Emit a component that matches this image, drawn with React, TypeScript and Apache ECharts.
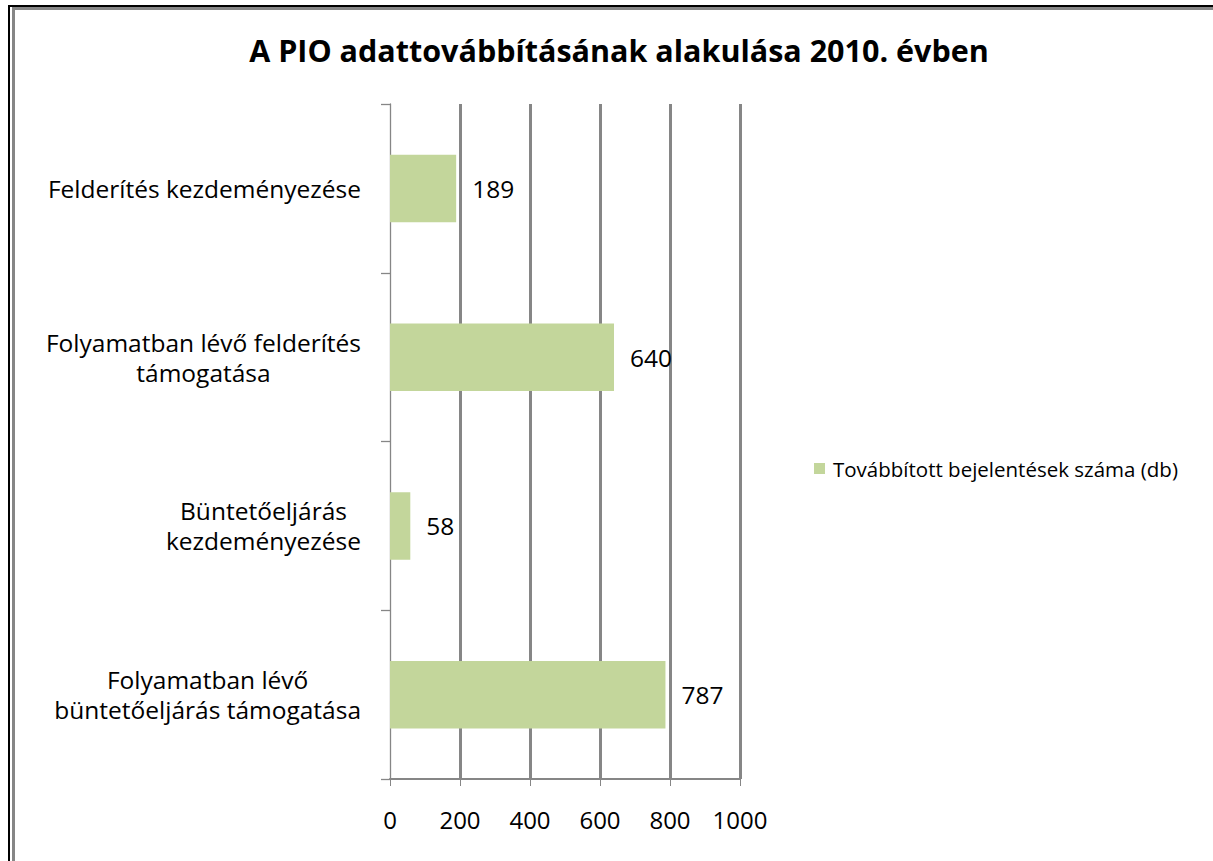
import React, { useEffect, useRef } from "react";
import * as echarts from "echarts";

const chartTitle = "A PIO adattovábbításának alakulása 2010. évben";
const seriesName = "Továbbított bejelentések száma (db)";
const categories = [
  "Felderítés kezdeményezése",
  "Folyamatban lévő felderítés\ntámogatása",
  "Büntetőeljárás\nkezdeményezése",
  "Folyamatban lévő\nbüntetőeljárás támogatása",
];
const values = [189, 640, 58, 787];
const xTicks = [0, 200, 400, 600, 800, 1000];

const FONT = "'Open Sans', 'Noto Sans', sans-serif";
const GRID_GRAY = "#868686";

export default function App() {
  const ref = useRef<HTMLDivElement>(null);

  useEffect(() => {
    if (!ref.current) return;
    const chart = echarts.init(ref.current, undefined, { renderer: "svg" });
    chart.setOption({
      animation: false,
      backgroundColor: "#ffffff",
      textStyle: { fontFamily: FONT },
      title: {
        text: chartTitle,
        left: 614,
        top: 29,
        textAlign: "center",
        textStyle: { fontFamily: FONT, fontSize: 30.5, fontWeight: "bold", color: "#000" },
      },
      legend: {
        left: 814,
        top: 458,
        padding: 0,
        icon: "rect",
        itemWidth: 11,
        itemHeight: 11,
        data: [seriesName],
        textStyle: { fontFamily: FONT, fontSize: 20.5, color: "#000", padding: [0, 0, 0, 3] },
      },
      grid: { left: 390, right: 473, top: 104, bottom: 82, containLabel: false },
      xAxis: {
        type: "value",
        min: xTicks[0],
        max: xTicks[xTicks.length - 1],
        interval: xTicks[1] - xTicks[0],
        axisLine: { show: true, lineStyle: { color: GRID_GRAY, width: 2 } },
        axisTick: { show: true, length: 7, lineStyle: { color: GRID_GRAY, width: 1 } },
        axisLabel: {
          fontFamily: FONT,
          fontSize: 24,
          color: "#000",
          margin: 28,
          formatter: (v: number) => String(v),
        },
        splitLine: { show: true, showMinLine: false, lineStyle: { color: GRID_GRAY, width: 3 } },
      },
      yAxis: {
        type: "category",
        inverse: true,
        data: categories,
        axisLine: { show: true, lineStyle: { color: GRID_GRAY, width: 1.3 } },
        axisTick: { show: true, length: 9, lineStyle: { color: GRID_GRAY, width: 1.3 } },
        axisLabel: {
          fontFamily: FONT,
          fontSize: 24.5,
          color: "#000",
          margin: 29,
          align: "right",
          lineHeight: 30,
          formatter: (v: string) => v.split("\n").map((l) => `{c|${l}}`).join("\n"),
          rich: { c: { align: "center", fontFamily: FONT, fontSize: 24.5, lineHeight: 30, color: "#000" } },
        },
        splitLine: { show: false },
      },
      series: [
        {
          name: seriesName,
          type: "bar",
          data: values,
          barCategoryGap: "60%",
          itemStyle: { color: "#c3d69b" },
          label: {
            show: true,
            position: "right",
            distance: 16,
            fontFamily: FONT,
            fontSize: 24.5,
            color: "#000",
          },
        },
      ],
      graphic: [
        { type: "rect", shape: { x: 8, y: 5, width: 2, height: 860 }, style: { fill: "#000" }, silent: true },
        { type: "rect", shape: { x: 8, y: 5, width: 1210, height: 2 }, style: { fill: "#000" }, silent: true },
        { type: "rect", shape: { x: 12, y: 7, width: 3, height: 860 }, style: { fill: GRID_GRAY }, silent: true },
        { type: "rect", shape: { x: 12, y: 7, width: 1210, height: 3 }, style: { fill: GRID_GRAY }, silent: true },
      ],
    });
    return () => chart.dispose();
  }, []);

  return (
    <div
      ref={ref}
      style={{ position: "absolute", left: 0, top: 0, width: 1213, height: 861, overflow: "hidden" }}
    />
  );
}
